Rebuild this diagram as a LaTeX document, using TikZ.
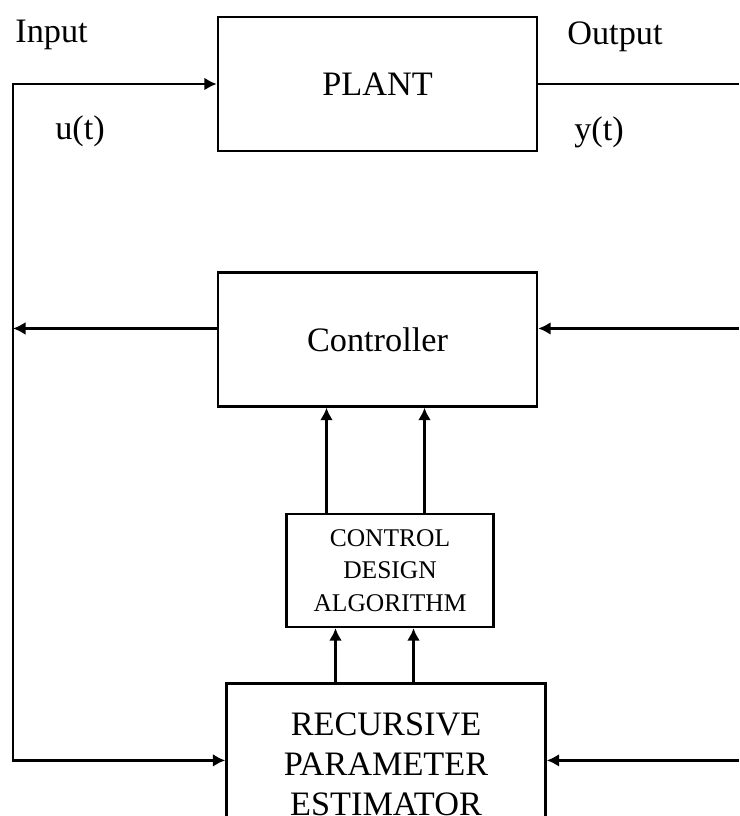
\documentclass[tikz,border=0pt]{standalone}
\usepackage{fontspec}
\setmainfont{Liberation Serif}
\usetikzlibrary{arrows.meta,positioning}
\tikzset{
  block/.style={
    draw,
    rectangle,
    line width=1.4pt,
    minimum width=6.38cm,
    minimum height=2.68cm,
    align=center,
    font=\fontsize{19.5}{23}\selectfont
  },
  designbox/.style={
    draw,
    rectangle,
    line width=1.4pt,
    minimum width=4.14cm,
    minimum height=2.26cm,
    align=center,
    inner sep=1pt,
    font=\fontsize{14.5}{18.5}\selectfont
  },
  signal/.style={inner sep=0pt, font=\fontsize{19.5}{23}\selectfont},
  wire/.style={line width=1.4pt},
  flow/.style={-{Latex[length=2.5mm,width=2.6mm]},line width=1.4pt},
  flowboth/.style={{Latex[length=2.5mm,width=2.6mm]}-{Latex[length=2.5mm,width=2.6mm]},line width=1.4pt}
}

\begin{document}
\begin{tikzpicture}[node distance=1.2cm]
\useasboundingbox (0,0) rectangle (14.78,-16.32);

\node[block] (plant) at (7.55,-1.68) {PLANT};
\node[block, below=2.38cm of plant] (ctrl) {Controller};
\node[designbox, below=2.10cm of ctrl, xshift=0.25cm] (design) {CONTROL\\DESIGN\\ALGORITHM};
\node[block, below=1.08cm of design, xshift=-0.08cm, minimum height=3.24cm] (est) {RECURSIVE\\PARAMETER\\ESTIMATOR};

\node[signal, anchor=base west] (inlbl) at (0.30,-0.86) {Input};
\node[signal, anchor=base west] (ulbl) at (1.10,-2.80) {u(t)};
\node[signal, anchor=base west] (outlbl) at (11.34,-0.90) {Output};
\node[signal, anchor=base west] (ylbl) at (11.48,-2.82) {y(t)};

\coordinate (lx) at (0.26,0);
\coordinate (rx) at (14.78,0);
\coordinate (cw) at ([yshift=0.22cm]ctrl.west);
\coordinate (ce) at ([yshift=0.22cm]ctrl.east);
\coordinate (ew) at ([yshift=0.08cm]est.west);
\coordinate (ee) at ([yshift=0.08cm]est.east);

% input u(t) to plant and estimator
\draw[flowboth] (ew) -- (lx |- ew) -- (lx |- plant.west) -- (plant.west);
\draw[flow] (cw) -- (lx |- cw);

% output y(t)
\draw[wire] (plant.east) -- (rx |- plant.east);
\draw[flow] (rx |- ce) -- (ce);
\draw[flow] (rx |- ee) -- (ee);

% estimator -> design -> controller
\coordinate (c1) at ([xshift=-1.27cm]design.north);
\coordinate (c2) at ([xshift=0.69cm]design.north);
\draw[flow] (c1) -- (c1 |- ctrl.south);
\draw[flow] (c2) -- (c2 |- ctrl.south);
\coordinate (d1) at ([xshift=-1.09cm]design.south);
\coordinate (d2) at ([xshift=0.47cm]design.south);
\draw[flow] (d1 |- est.north) -- (d1);
\draw[flow] (d2 |- est.north) -- (d2);
\end{tikzpicture}
\end{document}
